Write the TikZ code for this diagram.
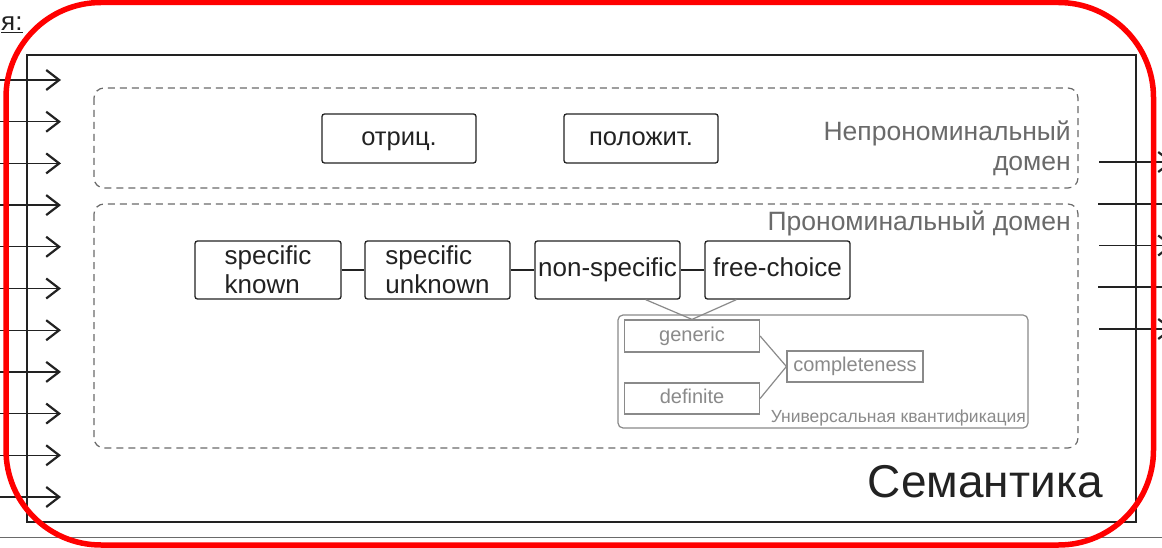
\documentclass[tikz,border=0pt]{standalone}
\usepackage{fontspec}
\setmainfont{Liberation Sans}
\usetikzlibrary{arrows.meta,calc}

\definecolor{inkdark}{HTML}{222222}
\definecolor{inkgray}{HTML}{6A6A6A}
\definecolor{inklight}{HTML}{8A8A8A}
\definecolor{framered}{HTML}{FF0000}

\tikzset{
  termbox/.style={draw=inkdark,line width=1.3pt,rounded corners=2.5pt,inner sep=0pt,text=inkdark},
  evenline/.style={text height=18.5pt,text depth=5.4pt},
  uqbox/.style={draw=inklight,line width=1.2pt,inner sep=0pt,text=inklight,text height=14.3pt,text depth=4.2pt,font=\fontsize{20}{22}\selectfont},
  domainbox/.style={draw=inkgray,dashed,dash pattern=on 7pt off 5pt,line width=1.2pt,rounded corners=10pt},
  inarrow/.style={draw=inkdark,line width=1.4pt,-{Straight Barb[length=13pt,width=20pt,line width=2.2pt]}},
  outline/.style={draw=inkdark,line width=1.4pt},
  link/.style={draw=inkdark,line width=1.3pt},
  uqlink/.style={draw=inklight,line width=1.2pt}
}

\begin{document}
\begin{tikzpicture}[x=1pt,y=-1pt]
  \clip (0,0) rectangle (1162,548);
  \fill[white] (0,0) rectangle (1162,548);

  % outer parts of the slide
  \node[anchor=base west,inner sep=0pt,text=inkdark,font=\fontsize{26}{28}\selectfont] (title) at (1,31) {\underline{я:}};
  \draw[draw=inkgray,line width=1pt] (0,537.5) -- (1162,537.5);
  \draw[draw=inkdark,line width=1.3pt] (27,55) rectangle (1136,522);

  % incoming arrows
  \foreach \i in {0,...,10}
    \draw[inarrow] (-5,{80+41.7*\i}) -- (61,{80+41.7*\i});

  % outgoing lines
  \foreach \y in {162,245.5,329}
    \draw[inarrow] (1099,\y) -- (1173,\y);
  \foreach \y in {204,287}
    \draw[outline] (1098,\y) -- (1170,\y);

  % domains
  \draw[domainbox] (94,88) rectangle (1078,188);
  \draw[domainbox] (94,204) rectangle (1078,448);
  \node[anchor=north east,align=right,inner sep=0pt,text=inkgray,font=\fontsize{26.5}{30}\selectfont] (npdom) at (1071,121) {Непрономинальный\\домен};
  \node[anchor=base east,inner sep=0pt,text=inkgray,font=\fontsize{26.5}{30}\selectfont] (pdom) at (1071,231) {Прономинальный домен};

  % non-pronominal
  \node[termbox,evenline,minimum width=154pt,minimum height=49pt,font=\fontsize{25.5}{28}\selectfont] (neg) at (399,138.5) {отриц.};
  \node[termbox,evenline,minimum width=154pt,minimum height=49pt,font=\fontsize{25.5}{28}\selectfont] (pos) at (641,138.5) {положит.};

  % pronominal
  \node[termbox,minimum width=146pt,minimum height=58pt,align=left,font=\fontsize{26}{29}\selectfont] (spk) at (268,270) {specific\\known};
  \node[termbox,minimum width=145pt,minimum height=58pt,align=left,font=\fontsize{26}{29}\selectfont] (spu) at (437.5,270) {specific\\unknown};
  \node[termbox,evenline,minimum width=145pt,minimum height=58pt,font=\fontsize{26}{29}\selectfont] (nsp) at (607.5,270) {non-specific};
  \node[termbox,evenline,minimum width=145pt,minimum height=58pt,font=\fontsize{26}{29}\selectfont] (frc) at (777.5,270) {free-choice};
  \draw[link] (spk) -- (spu);
  \draw[link] (spu) -- (nsp);
  \draw[link] (nsp) -- (frc);

  % universal quantification
  \draw[draw=inklight,line width=1.2pt,rounded corners=5pt] (618,315) rectangle (1028,428);
  \node[anchor=base east,inner sep=0pt,text=inklight,font=\fontsize{17.5}{20}\selectfont] (uqlabel) at (1026,422) {Универсальная квантификация};
  \node[uqbox,minimum width=135pt,minimum height=32pt] (gen) at (692,336) {generic};
  \node[uqbox,minimum width=135pt,minimum height=31pt] (def) at (692,398.5) {definite};
  \node[uqbox,minimum width=136pt,minimum height=31pt] (cpl) at (855,366.5) {completeness};
  \draw[uqlink] ([xshift=-35pt]nsp.south east) -- (gen.north);
  \draw[uqlink] ([xshift=32pt]frc.south west) -- (gen.north);
  \draw[uqlink] (gen.east) -- (cpl.west);
  \draw[uqlink] (def.east) -- (cpl.west);

  % semantics
  \node[anchor=base east,inner sep=0pt,text=inkdark,font=\fontsize{46}{50}\selectfont] (sem) at (1103,497) {Семантика};

  % red frame
  \draw[draw=framered,line width=5.5pt,rounded corners=95pt] (6,2.5) rectangle (1153.5,545);
\end{tikzpicture}
\end{document}
